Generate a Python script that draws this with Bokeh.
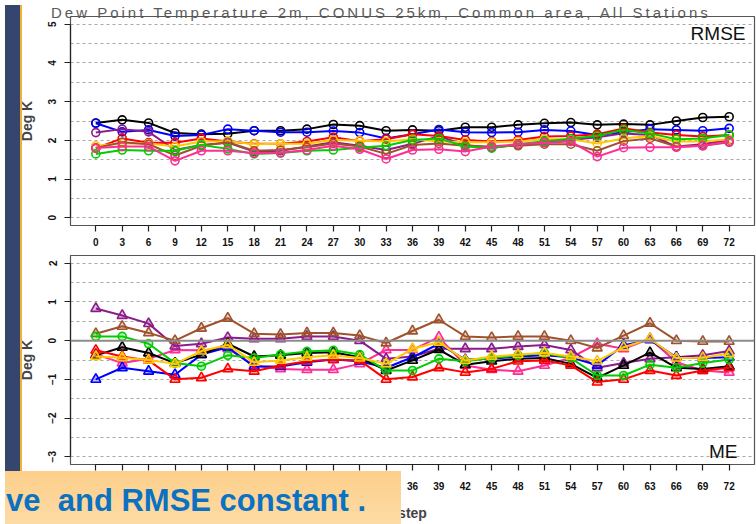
import numpy as np
from bokeh.plotting import figure
from bokeh.models import FixedTicker, Span, Label, Div
from bokeh.layouts import column
from bokeh.embed import file_html
from bokeh.resources import INLINE

# ---------------- data ----------------
steps = list(range(0, 73, 3))
top_yticks = [0, 1, 2, 3, 4, 5]
top_grid = [0, 0.5, 1, 1.5, 2, 2.5, 3, 3.5, 4, 4.5, 5]
bot_yticks = [-3, -2, -1, 0, 1, 2]
bot_grid = [-3, -2.5, -2, -1.5, -1, -0.5, 0.5, 1, 1.5, 2]

title_text = "Dew Point Temperature 2m, CONUS 25km, Common area, All Stations"
slide_text = "ve&nbsp; and RMSE constant ."

rmse_black = [2.45, 2.53, 2.45, 2.19, 2.16, 2.17, 2.25, 2.25, 2.29, 2.41, 2.38, 2.25, 2.27,
              2.25, 2.34, 2.34, 2.40, 2.44, 2.46, 2.40, 2.42, 2.40, 2.50, 2.59, 2.61]
rmse_blue = [2.44, 2.22, 2.27, 2.11, 2.14, 2.29, 2.25, 2.21, 2.21, 2.24, 2.20, 2.05, 2.16,
             2.28, 2.21, 2.20, 2.21, 2.27, 2.24, 2.14, 2.21, 2.29, 2.27, 2.25, 2.31]
rmse_purple = [2.20, 2.29, 2.22, 1.75, 1.88, 1.94, 1.71, 1.73, 1.84, 1.95, 1.86, 1.75, 1.91,
               2.11, 1.88, 1.81, 1.88, 1.95, 2.01, 2.08, 2.18, 2.14, 1.84, 1.90, 2.01]
rmse_red = [1.80, 2.05, 1.94, 1.94, 2.05, 1.97, 1.91, 1.91, 1.97, 2.08, 1.98, 2.03, 2.16,
            2.11, 2.01, 1.97, 2.01, 2.10, 2.11, 2.16, 2.31, 2.20, 2.14, 2.10, 2.14]
rmse_gold = [1.86, 1.92, 1.92, 1.84, 1.97, 1.98, 1.90, 1.91, 1.91, 2.01, 1.99, 1.97, 2.03,
             1.97, 1.95, 1.95, 1.97, 2.03, 2.03, 1.92, 2.05, 2.11, 1.97, 1.97, 2.03]
rmse_brown = [1.80, 1.95, 1.90, 1.61, 1.86, 1.95, 1.73, 1.75, 1.82, 1.92, 1.84, 1.65, 1.88,
              1.92, 1.86, 1.84, 1.86, 1.90, 1.90, 1.73, 1.98, 2.05, 1.84, 1.86, 1.95]
rmse_green = [1.65, 1.75, 1.73, 1.73, 1.88, 1.78, 1.65, 1.67, 1.73, 1.75, 1.81, 1.86, 2.01,
              2.05, 1.84, 1.80, 1.90, 1.98, 2.04, 2.12, 2.27, 2.18, 2.03, 2.05, 2.14]
rmse_pink = [1.80, 1.84, 1.84, 1.47, 1.73, 1.73, 1.67, 1.68, 1.75, 1.86, 1.77, 1.52, 1.75,
             1.77, 1.71, 1.84, 1.90, 1.94, 1.97, 1.58, 1.81, 1.82, 1.82, 1.86, 1.97]

me_black = [-0.38, -0.17, -0.32, -0.58, -0.36, -0.08, -0.41, -0.38, -0.32, -0.30, -0.43, -0.77, -0.51,
            -0.23, -0.62, -0.53, -0.47, -0.45, -0.60, -0.96, -0.64, -0.31, -0.70, -0.73, -0.66]
me_blue = [-1.00, -0.70, -0.79, -0.88, -0.36, -0.17, -0.67, -0.67, -0.56, -0.49, -0.53, -0.70, -0.43,
           -0.08, -0.49, -0.47, -0.41, -0.38, -0.43, -0.64, -0.12, 0.02, -0.43, -0.45, -0.43]
me_purple = [0.83, 0.65, 0.44, -0.14, -0.08, 0.08, 0.05, 0.05, 0.11, 0.11, 0.00, -0.47, -0.41,
             -0.21, -0.21, -0.21, -0.15, -0.11, -0.24, -0.70, -0.58, -0.47, -0.43, -0.38, -0.27]
me_red = [-0.25, -0.41, -0.51, -1.00, -0.96, -0.73, -0.79, -0.64, -0.53, -0.49, -0.51, -1.00, -0.94,
          -0.70, -0.82, -0.73, -0.53, -0.51, -0.64, -1.07, -1.00, -0.77, -0.90, -0.77, -0.70]
me_gold = [-0.41, -0.44, -0.50, -0.60, -0.27, -0.11, -0.56, -0.51, -0.43, -0.38, -0.45, -0.60, -0.21,
           -0.04, -0.51, -0.41, -0.36, -0.32, -0.41, -0.53, -0.17, 0.05, -0.45, -0.44, -0.34]
me_brown = [0.18, 0.37, 0.20, 0.00, 0.32, 0.58, 0.18, 0.16, 0.20, 0.20, 0.13, -0.06, 0.25,
            0.54, 0.11, 0.08, 0.11, 0.11, 0.00, -0.19, 0.13, 0.45, 0.00, -0.02, -0.02]
me_green = [0.11, 0.11, -0.08, -0.58, -0.66, -0.38, -0.45, -0.36, -0.28, -0.25, -0.36, -0.77, -0.77,
            -0.47, -0.53, -0.45, -0.38, -0.32, -0.45, -0.90, -0.90, -0.62, -0.70, -0.58, -0.49]
me_pink = [-0.35, -0.58, -0.47, -0.24, -0.25, -0.21, -0.64, -0.73, -0.75, -0.75, -0.60, -0.24, -0.24,
           0.09, -0.64, -0.75, -0.79, -0.64, -0.44, -0.08, -0.21, 0.05, -0.56, -0.77, -0.82]

colors = {"black": "#000000", "blue": "#0000FF", "purple": "#8B1C8B", "red": "#FF0000",
          "gold": "#FFC800", "brown": "#A0522D", "green": "#00CC00", "pink": "#FF2D96"}

rmse_series = [("black", rmse_black), ("blue", rmse_blue), ("purple", rmse_purple),
               ("red", rmse_red), ("gold", rmse_gold), ("brown", rmse_brown),
               ("green", rmse_green), ("pink", rmse_pink)]
me_series = [("pink", me_pink), ("purple", me_purple), ("brown", me_brown), ("blue", me_blue),
             ("black", me_black), ("red", me_red), ("green", me_green), ("gold", me_gold)]

# ---------------- layout helpers ----------------
W = 756
FL, FR = 70, 754
XR = (-2.88, 74.88)
TOP_YR = (-0.2, 5.2)
BOT_YR = (-3.2, 2.2)
FH = 209

def py_top(p):
    return TOP_YR[1] - (p - 16) * (TOP_YR[1] - TOP_YR[0]) / FH

def py_bot(p):
    return BOT_YR[1] - (p - 255) * (BOT_YR[1] - BOT_YR[0]) / FH

def px_x(p):
    return XR[0] + (p - FL) * (XR[1] - XR[0]) / (FR - FL)

TICK_FONT = "Liberation Sans"


def make_fig(height, yr, border_top, border_bottom):
    p = figure(width=W, height=height, x_range=XR, y_range=yr,
               output_backend="svg", toolbar_location=None,
               min_border_left=FL, min_border_right=W - FR,
               min_border_top=border_top, min_border_bottom=border_bottom)
    p.background_fill_color = "white"
    p.border_fill_color = "white"
    p.outline_line_color = "#555555"
    p.outline_line_width = 1.2
    p.xgrid.visible = False
    p.ygrid.grid_line_color = "#A8A8A8"
    p.ygrid.grid_line_dash = "3 3"
    p.ygrid.grid_line_width = 1
    p.xaxis.ticker = FixedTicker(ticks=steps)
    p.xaxis.bounds = (0, 72)
    for ax in (p.xaxis[0], p.yaxis[0]):
        ax.axis_line_color = "#222222"
        ax.axis_line_width = 1.2
        ax.major_tick_line_color = "#222222"
        ax.major_tick_line_width = 1.2
        ax.major_tick_in = 0
        ax.major_tick_out = 6
        ax.minor_tick_line_color = None
        ax.major_label_text_font = TICK_FONT
        ax.major_label_text_font_style = "bold"
        ax.major_label_text_font_size = "10px"
        ax.major_label_text_color = "#111111"
    p.yaxis.major_label_orientation = "vertical"
    p.yaxis.major_label_standoff = 8
    p.yaxis.axis_label = "Deg K"
    p.yaxis.axis_label_text_font = "Liberation Sans"
    p.yaxis.axis_label_text_font_style = "bold"
    p.yaxis.axis_label_text_font_size = "14px"
    p.yaxis.axis_label_standoff = 11
    return p


# ---------------- top panel: RMSE ----------------
top = make_fig(255, TOP_YR, 16, 30)
top.yaxis.ticker = FixedTicker(ticks=top_yticks)
top.yaxis.bounds = (0, 5)
top.ygrid.ticker = FixedTicker(ticks=top_grid)
top.xaxis.major_label_standoff = 6

for name, vals in rmse_series:
    c = colors[name]
    top.line(steps, vals, line_color=c, line_width=2)
    top.scatter(steps, vals, marker="circle", size=8, line_color=c, line_width=1.6,
                fill_color=None)

top.add_layout(Label(x=px_x(745), y=py_top(33), text="RMSE", text_align="right",
                     text_baseline="middle", text_font="Liberation Sans",
                     text_font_size="19px", text_color="#111111"))

# ---------------- bottom panel: ME ----------------
bot = make_fig(269, BOT_YR, 0, 60)
bot.yaxis.ticker = FixedTicker(ticks=bot_yticks)
bot.yaxis.bounds = (-3, 2)
bot.ygrid.ticker = FixedTicker(ticks=bot_grid)
bot.xaxis.major_label_standoff = 11
bot.xaxis.axis_label = "step"
bot.xaxis.axis_label_text_font = "Liberation Sans"
bot.xaxis.axis_label_text_font_style = "bold"
bot.xaxis.axis_label_text_font_size = "14px"
bot.xaxis.axis_label_standoff = 12
bot.add_layout(Span(location=0, dimension="width", line_color="#8C8C8C", line_width=2))

for name, vals in me_series:
    c = colors[name]
    bot.line(steps, vals, line_color=c, line_width=2)
    mk = "circle" if name == "green" else "triangle"
    sz = 8 if name == "green" else 10
    bot.scatter(steps, vals, marker=mk, size=sz, line_color=c, line_width=1.6,
                fill_color=c, fill_alpha=0.25)

bot.add_layout(Label(x=px_x(737), y=py_bot(451), text="ME", text_align="right",
                     text_baseline="middle", text_font="Liberation Sans",
                     text_font_size="19px", text_color="#111111"))

# ---------------- slide decorations (page chrome around the chart) ----------------
strip = Div(text="", width=17, height=466,
            styles={"position": "absolute", "left": "0px", "top": "0px", "z-index": "5",
                    "background": "linear-gradient(to right, #34466E 0px, #34466E 15px, "
                                  "#F2B134 15px, #F2B134 17px)"})
title_div = Div(text=('<div style="font: 15px \'Liberation Sans\', sans-serif; color:#5A5A5A; '
                      'text-align:center; line-height:15px; letter-spacing:3px; '
                      'white-space:nowrap;">' + title_text + '</div>'),
                width=710, height=15,
                styles={"position": "absolute", "left": "46px", "top": "0px", "z-index": "5"})
note_div = Div(text=('<div style="font: bold 31px \'Liberation Sans\', sans-serif; color:#0A72C2; '
                     'line-height:31px; white-space:nowrap; padding:14px 0 0 1px;">'
                     + slide_text + '</div>'),
               width=396, height=58,
               styles={"position": "absolute", "left": "0px", "top": "466px", "z-index": "6",
                       "overflow": "hidden",
                       "background": "linear-gradient(to bottom, #FDCF8A, #FDDCA8)"})

layout = column(top, bot, strip, title_div, note_div, spacing=0)
open("out.html", "w").write(file_html(layout, INLINE))
